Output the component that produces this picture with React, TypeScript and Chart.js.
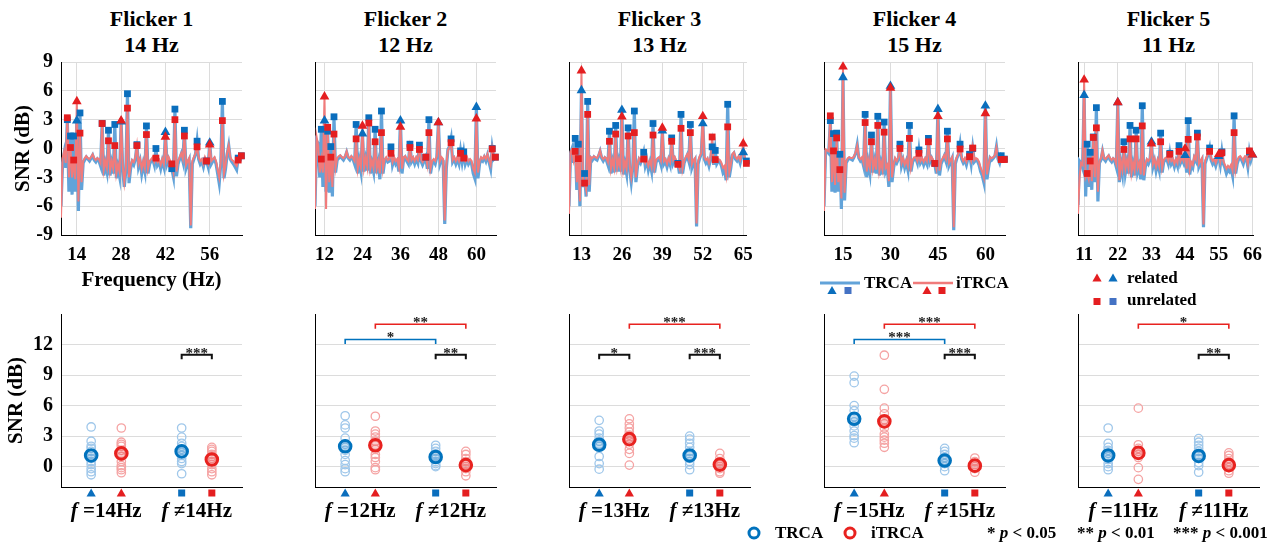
import React, { useEffect, useRef } from 'react';
import { Chart, registerables } from 'chart.js';

Chart.register(...registerables);

const FONT = '"Liberation Serif", "Times New Roman", serif';
Chart.defaults.font.family = FONT;

// ---------- frequency grid (Hz) ----------
const FREQS = [
  9, 9.5, 10, 10.5, 11, 11.5, 12, 12.5, 13, 13.5,
  14, 14.5, 15, 15.5, 16, 16.5, 17, 17.5, 18, 18.5,
  19, 19.5, 20, 20.5, 21, 21.5, 22, 22.5, 23, 23.5,
  24, 24.5, 25, 25.5, 26, 26.5, 27, 27.5, 28, 28.5,
  29, 29.5, 30, 30.5, 31, 31.5, 32, 32.5, 33, 33.5,
  34, 34.5, 35, 35.5, 36, 36.5, 37, 37.5, 38, 38.5,
  39, 39.5, 40, 40.5, 41, 41.5, 42, 42.5, 43, 43.5,
  44, 44.5, 45, 45.5, 46, 46.5, 47, 47.5, 48, 48.5,
  49, 49.5, 50, 50.5, 51, 51.5, 52, 52.5, 53, 53.5,
  54, 54.5, 55, 55.5, 56, 56.5, 57, 57.5, 58, 58.5,
  59, 59.5, 60, 60.5, 61, 61.5, 62, 62.5, 63, 63.5,
  64, 64.5, 65, 65.5, 66,
];

// ---------- SNR spectra (dB) ----------
const TRCA_SPEC_1 = [
  -6.0, -1.5, -0.5, -2.0, 3.0, -4.5, 1.3, -4.8, 1.3, -4.5,
  2.9, -6.5, 3.7, -4.3, -1.5, -1.2, -0.9, -1.1, -1.3, -1.0,
  -0.7, -1.2, -1.4, -1.1, -1.3, -1.8, 2.6, -2.8, -1.6, -2.4,
  1.9, -2.8, -1.6, -2.6, 2.5, -3.1, -2.0, -2.9, 2.8, -2.2,
  -4.0, -2.3, 5.7, -3.6, -2.1, -1.4, -1.7, -1.1, 0.4, -1.9,
  -1.3, -2.6, -1.6, -2.4, 2.35, -2.6, -1.6, -1.3, -1.1, -1.7,
  0.0, -1.7, -1.4, -2.1, -1.3, -1.9, 1.7, -1.6, -1.1, -1.6,
  -2.1, -2.9, 4.1, -2.9, -1.6, -1.1, -0.6, -1.3, 1.9, -2.1,
  -1.6, -1.2, -8.3, -1.6, -1.1, -0.6, 0.76, -1.1, -1.6, -1.3,
  -1.9, -1.1, -1.3, -1.9, 0.6, -1.6, -1.3, -1.1, -1.6, -2.6,
  -3.6, -1.6, 4.9, -3.1, -2.1, -0.6, 0.3, -1.1, -1.4, -1.6,
  -1.9, -2.2, -1.0, -0.9, -0.76,
];
const ITRCA_SPEC_1 = [
  -7.2, -1.0, -0.3, -1.5, 3.2, -3.0, 0.1, -3.0, -1.2, -3.2,
  4.9, -5.5, 1.6, -3.5, -1.3, -1.0, -0.8, -1.0, -1.1, -0.9,
  -0.6, -1.0, -1.2, -1.0, -1.1, -1.5, 2.6, -2.2, -1.3, -2.0,
  0.8, -2.3, -1.3, -2.1, 0.3, -2.6, -1.7, -2.4, 2.9, -1.8,
  -3.5, -2.0, 4.2, -3.0, -1.8, -1.2, -1.4, -0.9, 0.3, -1.6,
  -1.1, -2.1, -1.3, -2.0, 1.45, -2.1, -1.3, -1.1, -0.9, -1.4,
  -1.0, -1.4, -1.2, -1.7, -1.1, -1.6, 1.2, -1.3, -0.9, -1.3,
  -1.6, -2.4, 3.0, -2.4, -1.3, -0.9, -0.5, -1.1, 1.3, -1.7,
  -1.3, -1.0, -8.0, -1.3, -0.9, -0.5, 0.17, -0.9, -1.3, -1.1,
  -1.6, -0.9, -1.3, -1.6, 0.4, -1.3, -1.1, -0.9, -1.3, -2.2,
  -3.0, -1.3, 2.9, -2.6, -1.7, -0.5, 0.3, -0.9, -1.2, -1.3,
  -1.6, -1.8, -1.2, -0.9, -0.76,
];
const TRCA_SPEC_2 = [
  -6.0, 0.8, 0.5, -3.0, 2.0, -4.0, 2.9, -4.5, 1.8, -4.6,
  0.2, -5.0, 3.3, -2.5, -1.2, -1.0, -0.8, -1.0, -1.2, -0.9,
  -0.4, -1.0, -1.2, -0.9, -1.1, -1.6, 2.5, -2.6, -1.3, -2.3,
  1.55, -2.4, -1.2, -2.3, 3.2, -2.6, -1.6, -2.4, 2.0, -2.6,
  -1.6, -3.2, 3.9, -2.6, -1.3, -1.1, -1.4, -1.3, 0.17, -1.7,
  -1.1, -1.6, -1.3, -2.4, 2.9, -2.6, -1.1, -0.9, -1.3, -1.6,
  0.45, -1.4, -1.1, -1.6, -1.1, -1.5, 0.35, -1.3, -1.7, -1.3,
  -0.9, -2.1, 3.0, -2.6, -1.6, -1.3, -1.6, -0.9, 2.7, -1.6,
  -1.1, -1.3, -7.85, -2.1, -0.1, 0.2, 1.0, -1.4, -1.1, -1.6,
  -1.1, -1.6, -0.25, -1.4, -0.35, -1.6, -1.1, -1.6, -1.3, -1.6,
  -2.6, -3.1, 4.3, -3.1, -1.6, -1.1, -1.3, -0.9, -1.3, -0.7,
  -1.4, -2.1, 0.0, -1.1, -0.9,
];
const ITRCA_SPEC_2 = [
  -6.3, 1.2, 0.3, -2.5, -1.1, -2.5, 5.4, -6.3, 2.2, -3.5,
  -0.9, -4.0, 1.5, -2.0, -1.0, -0.8, -0.7, -0.9, -1.0, -0.8,
  -0.3, -0.9, -1.0, -0.8, -1.0, -1.3, 1.0, -2.1, -1.1, -1.9,
  2.35, -2.0, -1.0, -1.9, 2.65, -2.1, -1.3, -2.0, 0.7, -2.1,
  -1.3, -2.6, 1.65, -2.1, -1.1, -0.9, -1.2, -1.1, -0.5, -1.4,
  -0.9, -1.3, -1.1, -1.9, 2.25, -2.1, -0.9, -0.8, -1.1, -1.3,
  0.1, -1.2, -0.9, -1.3, -0.9, -1.2, -0.1, -1.1, -1.4, -1.1,
  -0.9, -1.7, 1.65, -2.1, -1.3, -1.1, -1.3, -0.8, 2.7, -1.3,
  -0.9, -1.1, -7.5, -1.7, -0.2, 0.1, 0.6, -1.2, -0.9, -1.3,
  -0.9, -1.3, -0.5, -1.2, -1.0, -1.3, -0.9, -1.3, -1.1, -1.3,
  -2.1, -2.5, 3.1, -2.5, -1.3, -0.9, -1.1, -0.8, -1.1, -0.6,
  -1.2, -1.7, -0.05, -1.0, -0.9,
];
const TRCA_SPEC_3 = [
  -6.0, -0.5, 0.0, -1.5, 1.05, -4.3, 0.45, -6.0, 6.05, -4.0,
  -2.6, -5.0, 4.9, -4.5, -1.0, -1.2, -0.9, -1.1, -1.2, -0.8,
  -0.3, -1.0, -1.3, -1.0, -1.2, -1.7, 1.8, -2.6, -1.5, -2.5,
  2.4, -2.4, -1.4, -2.4, 4.0, -2.7, -1.7, -2.6, 2.15, -2.2,
  -3.5, -2.0, 3.9, -3.5, -1.9, -1.2, -1.5, -1.0, -0.4, -1.8,
  -1.2, -2.2, -1.5, -2.3, 2.6, -2.5, -1.4, -1.2, -1.0, -1.6,
  1.85, -1.6, -1.3, -1.9, -1.2, -1.7, 1.1, -1.5, -1.1, -1.5,
  -1.55, -2.6, 3.55, -2.6, -1.5, -1.1, -0.7, -1.3, 2.5, -2.0,
  -1.5, -1.2, -8.1, -1.6, -1.0, -0.6, 2.6, -1.1, -1.5, -1.2,
  -1.8, -1.1, 0.17, -1.7, -0.2, -1.6, -1.3, -1.4, -1.8, -2.5,
  -2.2, -3.3, 4.6, -3.0, -2.0, -0.7, -0.5, -1.1, -1.3, -1.0,
  -1.5, -0.8, -0.4, -1.2, -1.3,
];
const ITRCA_SPEC_3 = [
  -6.8, -0.3, -0.1, -1.2, -0.3, -3.5, -1.05, -5.5, 8.1, -3.5,
  -3.6, -4.3, 3.55, -3.8, -0.9, -1.0, -0.8, -0.9, -1.0, -0.7,
  -0.2, -0.9, -1.1, -0.9, -1.0, -1.4, 0.75, -2.1, -1.2, -2.0,
  1.5, -2.0, -1.2, -2.0, 3.3, -2.2, -1.4, -2.1, 1.3, -1.8,
  -3.0, -1.7, 1.65, -3.0, -1.6, -1.0, -1.3, -0.9, -1.1, -1.5,
  -1.0, -1.8, -1.3, -1.9, 1.4, -2.0, -1.2, -1.0, -0.9, -1.3,
  2.15, -1.3, -1.1, -1.6, -1.0, -1.4, 0.75, -1.2, -0.9, -1.3,
  -1.65, -2.1, 2.1, -2.1, -1.3, -0.9, -0.6, -1.1, 1.65, -1.6,
  -1.2, -1.0, -7.8, -1.3, -0.8, -0.5, 3.35, -0.9, -1.2, -1.0,
  -1.5, -0.9, 1.2, -1.4, -1.15, -1.3, -1.1, -1.2, -1.5, -2.0,
  -1.8, -2.7, 2.25, -2.5, -1.7, -0.6, -0.4, -0.9, -1.1, -0.8,
  -1.2, -0.6, 0.5, -1.0, -1.55,
];
const TRCA_SPEC_4 = [
  -6.0, -0.3, -0.3, -0.5, 2.9, -4.5, 1.55, -4.6, 1.6, -4.5,
  -0.6, -6.3, 7.4, -5.4, -1.5, -1.2, -1.0, -1.1, -1.2, -0.9,
  -0.5, 0.4, -1.0, -1.3, -1.1, -1.8, 3.55, -3.0, -1.5, -2.5,
  1.4, -2.5, -1.4, -2.6, 3.35, -2.8, -1.7, -2.7, 2.75, -2.4,
  -2.0, -4.0, 6.5, -3.5, -2.0, -1.2, -1.5, -1.1, 0.45, -1.8,
  -1.2, -2.0, -1.4, -2.2, 2.4, -2.4, -1.4, -1.1, -1.0, -1.5,
  -0.15, -1.5, -1.2, -1.7, -1.2, -1.6, 1.05, -1.4, -1.0, -1.4,
  -1.55, -2.6, 4.1, -2.8, -1.6, -1.2, -0.8, -1.3, 1.8, -1.8,
  -1.4, -1.0, -8.5, -1.6, -1.0, -0.6, 0.45, -1.1, -1.5, -1.2,
  -1.7, -1.0, -0.6, -1.6, 0.0, -1.4, -1.2, -1.3, -1.7, -2.4,
  -2.8, -3.5, 4.45, -3.2, -2.0, -1.0, -1.2, -1.0, -0.8, 0.2,
  -1.1, -1.5, -0.75, -1.0, -1.1,
];
const ITRCA_SPEC_4 = [
  -6.5, -0.1, -0.2, -0.3, 3.4, -3.5, -0.25, -3.8, 1.1, -3.5,
  -2.2, -5.2, 8.5, -4.6, -1.3, -1.0, -0.9, -1.0, -1.0, -0.8,
  -0.4, 0.3, -0.9, -1.1, -0.9, -1.5, 2.7, -2.4, -1.2, -2.0,
  0.7, -2.1, -1.2, -2.2, 2.4, -2.3, -1.4, -2.2, 1.7, -2.0,
  -1.7, -3.4, 6.3, -3.0, -1.7, -1.0, -1.3, -0.9, 0.0, -1.5,
  -1.0, -1.7, -1.2, -1.8, 1.05, -2.0, -1.2, -0.9, -0.9, -1.3,
  -0.5, -1.3, -1.0, -1.4, -1.0, -1.3, 0.7, -1.2, -0.9, -1.2,
  -1.55, -2.1, 3.35, -2.3, -1.3, -1.0, -0.7, -1.1, 1.0, -1.5,
  -1.2, -0.9, -8.2, -1.3, -0.9, -0.5, -0.05, -0.9, -1.3, -1.0,
  -1.4, -0.9, -0.85, -1.3, 0.05, -1.2, -1.0, -1.1, -1.4, -2.0,
  -2.4, -3.0, 3.65, -2.7, -1.7, -0.9, -1.0, -0.9, -0.7, 0.1,
  -1.0, -1.3, -1.15, -1.0, -1.15,
];
const TRCA_SPEC_5 = [
  -5.9, -1.3, -1.5, -2.0, 5.55, -5.0, 0.45, -4.0, -0.4, -4.3,
  1.2, -3.5, 4.25, -5.5, -1.5, -1.2, -0.3, -1.1, -1.3, -1.0,
  -0.8, -1.2, -1.4, -1.1, -1.3, -1.9, 4.8, -3.5, -1.6, -2.6,
  0.7, -2.5, -1.5, -2.6, 2.4, -3.0, -1.8, -2.8, 1.9, -2.4,
  -1.8, -3.2, 4.45, -3.3, -1.9, -1.3, -1.6, -1.2, 0.7, -1.9,
  -1.3, -2.3, -1.5, -2.2, 1.6, -2.5, -1.4, -1.2, -1.1, -1.6,
  -0.5, -1.6, -1.3, -1.9, -1.3, -1.8, 0.3, -1.5, -1.1, -1.5,
  -0.7, -2.5, 2.9, -2.7, -1.7, -2.0, -1.0, -1.3, 1.6, -1.9,
  -1.5, -1.2, -8.2, -1.6, -1.1, -0.6, 0.05, -1.2, -1.6, -1.3,
  -1.8, -1.2, -0.8, -1.7, -0.35, -1.6, -2.0, -2.6, -2.2, -2.4,
  -2.0, -2.8, 3.4, -2.6, -1.6, -1.1, -1.0, -1.2, -1.6, -1.0,
  -0.9, -1.9, -0.35, -1.2, -0.65,
];
const ITRCA_SPEC_5 = [
  -6.8, -3.0, -1.5, -1.7, 7.15, -3.0, -2.6, -3.2, -1.3, -3.4,
  1.15, -3.0, 2.15, -4.5, -1.3, -1.0, -0.2, -1.0, -1.1, -0.9,
  -0.7, -1.0, -1.2, -1.0, -1.1, -1.6, 4.8, -3.3, -1.3, -2.2,
  -0.1, -2.1, -1.2, -2.1, 1.0, -2.5, -1.5, -2.3, 1.0, -2.0,
  -1.5, -2.7, 2.35, -2.8, -1.6, -1.1, -1.3, -1.0, 0.5, -1.6,
  -1.1, -1.9, -1.2, -1.8, 0.7, -2.0, -1.2, -1.0, -0.9, -1.3,
  -0.6, -1.3, -1.1, -1.6, -1.1, -1.5, -0.3, -1.3, -0.9, -1.3,
  0.0, -2.1, 0.95, -2.2, -1.4, -1.7, -0.8, -1.1, 1.2, -1.6,
  -1.3, -1.0, -7.9, -1.3, -0.9, -0.5, -0.3, -1.0, -1.3, -1.1,
  -1.5, -1.0, -0.6, -1.4, -0.45, -1.3, -1.7, -2.1, -1.8, -2.0,
  -1.7, -2.3, 1.65, -2.2, -1.3, -0.9, -0.8, -1.0, -1.3, -0.8,
  -0.8, -1.6, -0.25, -1.0, -0.65,
];

// ---------- related (harmonics of the flicker, also x tick labels) / unrelated frequencies ----------
const RELATED_1 = [14, 28, 42, 56];
const RELATED_2 = [12, 24, 36, 48, 60];
const RELATED_3 = [13, 26, 39, 52, 65];
const RELATED_4 = [15, 30, 45, 60];
const RELATED_5 = [11, 22, 33, 44, 55, 66];
const UNRELATED_1 = [11, 12, 13, 15, 22, 24, 26, 30, 33, 36, 39, 44, 45, 48, 52, 55, 60, 65, 66];
const UNRELATED_2 = [11, 13, 14, 15, 22, 26, 28, 30, 33, 39, 42, 44, 45, 52, 55, 56, 65, 66];
const UNRELATED_3 = [11, 12, 14, 15, 22, 24, 28, 30, 33, 36, 42, 44, 45, 48, 55, 56, 60, 66];
const UNRELATED_4 = [11, 12, 13, 14, 22, 24, 26, 28, 33, 36, 39, 42, 44, 48, 52, 55, 56, 65, 66];
const UNRELATED_5 = [12, 13, 14, 15, 24, 26, 28, 30, 36, 39, 42, 45, 48, 52, 56, 60, 65];

const TITLES = ['Flicker 1', 'Flicker 2', 'Flicker 3', 'Flicker 4', 'Flicker 5'];
const STIM_FREQ = [14, 12, 13, 15, 11];

// ---------- per-subject SNR at related / unrelated frequencies ----------
const TRCA_REL_1 = [3.9, 2.5, 2.0, 1.8, 1.5, 1.2, 0.8, 0.5, 0.2, -0.2, -0.5, -0.8];
const ITRCA_REL_1 = [3.8, 2.4, 2.2, 2.0, 1.6, 1.3, 1.0, 0.5, 0.1, -0.1, -0.3, -0.6];
const TRCA_UNREL_1 = [3.8, 2.9, 2.3, 2.0, 1.7, 1.4, 1.1, 0.8, 0.5, 0.3, -0.7];
const ITRCA_UNREL_1 = [1.9, 1.7, 1.5, 1.2, 1.0, 0.8, 0.5, 0.2, -0.2, -0.5, -0.8];
const MEANS_1 = [1.1, 1.3, 1.5, 0.7];

const TRCA_REL_2 = [5.0, 4.1, 3.8, 2.8, 2.2, 1.9, 1.6, 1.2, 0.6, 0.2, -0.2, -0.5];
const ITRCA_REL_2 = [4.95, 3.5, 3.2, 2.9, 2.5, 2.1, 1.7, 1.2, 0.9, 0.5, -0.1, -0.3];
const TRCA_UNREL_2 = [2.1, 1.8, 1.5, 1.2, 1.0, 0.8, 0.5, 0.3, 0.1, 0.0];
const ITRCA_UNREL_2 = [1.5, 1.2, 0.8, 0.5, 0.2, 0.0, -0.2, -0.5, -0.9];
const MEANS_2 = [2.0, 2.1, 0.95, 0.15];

const TRCA_REL_3 = [4.55, 3.5, 3.2, 2.8, 2.5, 2.2, 2.0, 1.0, 0.3, -0.25];
const ITRCA_REL_3 = [4.7, 4.2, 3.8, 3.4, 3.1, 2.8, 2.5, 2.2, 1.7, 1.3, 0.15];
const TRCA_UNREL_3 = [3.0, 2.7, 2.3, 1.9, 1.5, 1.1, 0.8, 0.5, 0.2, -0.3];
const ITRCA_UNREL_3 = [1.3, 0.8, 0.5, 0.2, 0.0, -0.2, -0.5, -0.65];
const MEANS_3 = [2.15, 2.7, 1.1, 0.2];

const TRCA_REL_4 = [8.9, 8.25, 6.0, 5.5, 4.9, 4.4, 4.0, 3.5, 3.05, 2.8, 2.35];
const ITRCA_REL_4 = [10.95, 7.6, 5.75, 5.2, 4.6, 4.2, 3.8, 3.2, 2.9, 2.6, 2.3, 1.9];
const TRCA_UNREL_4 = [1.8, 1.5, 1.2, 0.9, 0.6, 0.3, 0.0, -0.4];
const ITRCA_UNREL_4 = [0.85, 0.5, 0.2, 0.0, -0.2, -0.55];
const MEANS_4 = [4.7, 4.45, 0.6, 0.1];

const TRCA_REL_5 = [3.8, 2.3, 1.9, 1.6, 1.3, 1.0, 0.7, 0.3, 0.0, -0.3];
const ITRCA_REL_5 = [5.75, 2.15, 1.8, 1.5, 1.2, 0.9, -0.1, -1.25];
const TRCA_UNREL_5 = [2.75, 2.4, 2.1, 1.8, 1.5, 1.1, 0.8, 0.4, 0.1, -0.55];
const ITRCA_UNREL_5 = [1.35, 1.1, 0.8, 0.5, 0.2, -0.1, -0.4, -0.65];
const MEANS_5 = [1.1, 1.35, 1.05, 0.15];

// significance brackets: group positions (1 TRCA f=, 2 iTRCA f=, 4 TRCA f≠, 5 iTRCA f≠)
const BRACKETS_1 = [{ from: 4, to: 5, level: 11, kind: 'black', stars: '***' }];
const BRACKETS_2 = [
  { from: 2, to: 5, level: 14, kind: 'red', stars: '**' },
  { from: 1, to: 4, level: 12.5, kind: 'blue', stars: '*' },
  { from: 4, to: 5, level: 11, kind: 'black', stars: '**' },
];
const BRACKETS_3 = [
  { from: 2, to: 5, level: 14, kind: 'red', stars: '***' },
  { from: 1, to: 2, level: 11, kind: 'black', stars: '*' },
  { from: 4, to: 5, level: 11, kind: 'black', stars: '***' },
];
const BRACKETS_4 = [
  { from: 2, to: 5, level: 14, kind: 'red', stars: '***' },
  { from: 1, to: 4, level: 12.5, kind: 'blue', stars: '***' },
  { from: 4, to: 5, level: 11, kind: 'black', stars: '***' },
];
const BRACKETS_5 = [
  { from: 2, to: 5, level: 14, kind: 'red', stars: '*' },
  { from: 4, to: 5, level: 11, kind: 'black', stars: '**' },
];

const BOTTOM_Y_TICKS = [0, 3, 6, 9, 12];

// ---------- grouping ----------
const SPEC_TRCA = [TRCA_SPEC_1, TRCA_SPEC_2, TRCA_SPEC_3, TRCA_SPEC_4, TRCA_SPEC_5];
const SPEC_ITRCA = [ITRCA_SPEC_1, ITRCA_SPEC_2, ITRCA_SPEC_3, ITRCA_SPEC_4, ITRCA_SPEC_5];
const RELATED = [RELATED_1, RELATED_2, RELATED_3, RELATED_4, RELATED_5];
const UNRELATED = [UNRELATED_1, UNRELATED_2, UNRELATED_3, UNRELATED_4, UNRELATED_5];
const TRCA_REL = [TRCA_REL_1, TRCA_REL_2, TRCA_REL_3, TRCA_REL_4, TRCA_REL_5];
const ITRCA_REL = [ITRCA_REL_1, ITRCA_REL_2, ITRCA_REL_3, ITRCA_REL_4, ITRCA_REL_5];
const TRCA_UNREL = [TRCA_UNREL_1, TRCA_UNREL_2, TRCA_UNREL_3, TRCA_UNREL_4, TRCA_UNREL_5];
const ITRCA_UNREL = [ITRCA_UNREL_1, ITRCA_UNREL_2, ITRCA_UNREL_3, ITRCA_UNREL_4, ITRCA_UNREL_5];
const MEANS = [MEANS_1, MEANS_2, MEANS_3, MEANS_4, MEANS_5];
const BRACKETS = [BRACKETS_1, BRACKETS_2, BRACKETS_3, BRACKETS_4, BRACKETS_5];

// ---------- style ----------
const BLUE_MARK = '#0a6ebd';
const RED_MARK = '#e41e20';
const BLUE_LINE = '#62a3d9';
const RED_LINE = '#f07b7b';
const BLUE_SUBJ = '#9fc7ea';
const RED_SUBJ = '#f5a3a3';
const BLUE_MEAN = '#0072bd';
const RED_MEAN = '#e8221f';
const ROYAL = '#4472c4';
const GRID = '#dcdcdc';
const BRACKET_COLORS: Record<string, string> = { black: '#111', blue: BLUE_MEAN, red: RED_MEAN };

const PLOT_LEFT = [61, 315, 569, 824, 1078];
const PLOT_W = 181;
const AXIS_W = 61;
const PAD_R = 12;
const CANVAS_W = AXIS_W + PLOT_W + PAD_R;

function TopPanel({ i }: { i: number }) {
  const ref = useRef<HTMLCanvasElement>(null);
  useEffect(() => {
    const blue = SPEC_TRCA[i];
    const red = SPEC_ITRCA[i];
    const rel = RELATED[i];
    const unrel = UNRELATED[i];
    const valAt = (arr: number[], f: number) => arr[FREQS.indexOf(f)];
    const line = (arr: number[]) => FREQS.map((f, k) => ({ x: f, y: arr[k] }));
    const pts = (fs: number[], arr: number[]) => fs.map((f) => ({ x: f, y: valAt(arr, f) }));
    const marker = (data: any[], style: string, r: number, color: string, order: number) => ({
      data,
      showLine: false,
      pointStyle: style,
      pointRadius: r,
      pointBackgroundColor: color,
      pointBorderColor: color,
      pointBorderWidth: 0,
      order,
      clip: 10,
    });
    const chart = new Chart(ref.current as HTMLCanvasElement, {
      type: 'line',
      data: {
        datasets: [
          { data: line(blue), borderColor: BLUE_LINE, borderWidth: 3.2, pointRadius: 0, order: 10 } as any,
          { data: line(red), borderColor: RED_LINE, borderWidth: 2, pointRadius: 0, order: 9 } as any,
          marker(pts(unrel, blue), 'rect', 4.8, BLUE_MARK, 8),
          marker(pts(rel, blue), 'triangle', 5.6, BLUE_MARK, 7),
          marker(pts(unrel, red), 'rect', 4.8, RED_MARK, 6),
          marker(pts(rel, red), 'triangle', 5.6, RED_MARK, 5),
        ],
      },
      options: {
        responsive: false,
        animation: false,
        events: [],
        layout: { padding: { left: 0, right: PAD_R, top: 20, bottom: 0 } },
        plugins: { legend: { display: false }, tooltip: { enabled: false }, title: { display: false } },
        scales: {
          x: {
            type: 'linear',
            min: 9,
            max: 66.2,
            afterBuildTicks: (s: any) => {
              s.ticks = rel.map((v) => ({ value: v }));
            },
            afterFit: (s: any) => {
              s.height = 60;
            },
            grid: { color: GRID, drawTicks: false, lineWidth: 1 },
            border: { color: '#000', width: 1 },
            ticks: {
              color: '#000',
              font: { family: FONT, size: 19, weight: 'bold' },
              padding: 9,
              maxRotation: 0,
              autoSkip: false,
            },
            title: {
              display: i === 0,
              text: 'Frequency (Hz)',
              color: '#000',
              font: { family: FONT, size: 21, weight: 'bold' },
              padding: { top: 0, bottom: 2 },
            },
          },
          y: {
            min: -9,
            max: 9,
            afterFit: (s: any) => {
              s.width = AXIS_W;
            },
            grid: { color: GRID, drawTicks: false, lineWidth: 1 },
            border: { color: '#000', width: 1 },
            ticks: {
              stepSize: 3,
              display: i === 0,
              color: '#000',
              font: { family: FONT, size: 20, weight: 'bold' },
              padding: 8,
            },
            title: {
              display: i === 0,
              text: 'SNR (dB)',
              color: '#000',
              font: { family: FONT, size: 21, weight: 'bold' },
              padding: { top: 11, bottom: 0 },
            },
          },
        },
      } as any,
    });
    return () => chart.destroy();
  }, [i]);
  return (
    <canvas
      ref={ref}
      width={CANVAS_W}
      height={253}
      style={{ position: 'absolute', left: PLOT_LEFT[i] - AXIS_W, top: 42, width: CANVAS_W, height: 253 }}
    />
  );
}

function drawTriangle(ctx: CanvasRenderingContext2D, cx: number, cy: number, color: string) {
  ctx.fillStyle = color;
  ctx.beginPath();
  ctx.moveTo(cx, cy - 4.5);
  ctx.lineTo(cx + 4.6, cy + 3.6);
  ctx.lineTo(cx - 4.6, cy + 3.6);
  ctx.closePath();
  ctx.fill();
}
function drawSquare(ctx: CanvasRenderingContext2D, cx: number, cy: number, color: string) {
  ctx.fillStyle = color;
  ctx.fillRect(cx - 3.5, cy - 3.5, 7, 7);
}

function BottomPanel({ i }: { i: number }) {
  const ref = useRef<HTMLCanvasElement>(null);
  useEffect(() => {
    const m = MEANS[i];
    const subj = (vals: number[], x: number) => vals.map((v) => ({ x, y: v }));
    const decor = {
      id: 'decor' + i,
      afterDraw(chart: any) {
        const { ctx, chartArea, scales } = chart;
        const xs = scales.x;
        const ys = scales.y;
        ctx.save();
        // group markers under the axis
        const my = chartArea.bottom + 6;
        drawTriangle(ctx, xs.getPixelForValue(1), my, BLUE_MARK);
        drawTriangle(ctx, xs.getPixelForValue(2), my, RED_MARK);
        drawSquare(ctx, xs.getPixelForValue(4), my, BLUE_MARK);
        drawSquare(ctx, xs.getPixelForValue(5), my, RED_MARK);
        // group labels
        const base = chartArea.bottom + 30;
        const label = (cx: number, rel: string) => {
          const parts = [
            { t: 'f', f: `italic bold 21px ${FONT}` },
            { t: ' ' + rel + STIM_FREQ[i] + 'Hz', f: `bold 21px ${FONT}` },
          ];
          let total = 0;
          const ws = parts.map((p) => {
            ctx.font = p.f;
            const w = ctx.measureText(p.t).width;
            total += w;
            return w;
          });
          let x = cx - total / 2;
          ctx.fillStyle = '#000';
          ctx.textAlign = 'left';
          ctx.textBaseline = 'alphabetic';
          parts.forEach((p, k) => {
            ctx.font = p.f;
            ctx.fillText(p.t, x, base);
            x += ws[k];
          });
        };
        label(xs.getPixelForValue(1.5), '=');
        label(xs.getPixelForValue(4.5), '\u2260');
        // significance brackets
        BRACKETS[i].forEach((b) => {
          const x1 = xs.getPixelForValue(b.from);
          const x2 = xs.getPixelForValue(b.to);
          const yy = ys.getPixelForValue(b.level);
          ctx.strokeStyle = BRACKET_COLORS[b.kind];
          ctx.lineWidth = b.kind === 'black' ? 2 : 1.6;
          ctx.beginPath();
          ctx.moveTo(x1, yy + 4.5);
          ctx.lineTo(x1, yy);
          ctx.lineTo(x2, yy);
          ctx.lineTo(x2, yy + 4.5);
          ctx.stroke();
          ctx.font = `bold 15px ${FONT}`;
          ctx.fillStyle = '#222';
          ctx.textAlign = 'center';
          ctx.textBaseline = 'alphabetic';
          ctx.fillText(b.stars, (x1 + x2) / 2, yy + 3);
        });
        ctx.restore();
      },
    };
    const chart = new Chart(ref.current as HTMLCanvasElement, {
      type: 'scatter',
      data: {
        datasets: [
          {
            data: [...subj(TRCA_REL[i], 1), ...subj(TRCA_UNREL[i], 4)],
            pointRadius: 4.2,
            pointBorderWidth: 1.3,
            pointBorderColor: BLUE_SUBJ,
            pointBackgroundColor: 'rgba(0,0,0,0)',
            order: 4,
          },
          {
            data: [...subj(ITRCA_REL[i], 2), ...subj(ITRCA_UNREL[i], 5)],
            pointRadius: 4.2,
            pointBorderWidth: 1.3,
            pointBorderColor: RED_SUBJ,
            pointBackgroundColor: 'rgba(0,0,0,0)',
            order: 3,
          },
          {
            data: [{ x: 1, y: m[0] }, { x: 4, y: m[2] }],
            pointRadius: 5.8,
            pointBorderWidth: 3,
            pointBorderColor: BLUE_MEAN,
            pointBackgroundColor: 'rgba(0,114,189,0.22)',
            order: 2,
          },
          {
            data: [{ x: 2, y: m[1] }, { x: 5, y: m[3] }],
            pointRadius: 5.8,
            pointBorderWidth: 3,
            pointBorderColor: RED_MEAN,
            pointBackgroundColor: 'rgba(232,34,31,0.22)',
            order: 1,
          },
        ],
      },
      options: {
        responsive: false,
        animation: false,
        events: [],
        layout: { padding: { left: 0, right: PAD_R, top: 20, bottom: 0 } },
        plugins: { legend: { display: false }, tooltip: { enabled: false }, title: { display: false } },
        scales: {
          x: {
            type: 'linear',
            min: 0,
            max: 6,
            afterFit: (s: any) => {
              s.height = 59;
            },
            grid: { display: false },
            border: { color: '#000', width: 1 },
            ticks: { display: false },
          },
          y: {
            min: -2,
            max: 15,
            afterBuildTicks: (s: any) => {
              s.ticks = BOTTOM_Y_TICKS.map((v) => ({ value: v }));
            },
            afterFit: (s: any) => {
              s.width = AXIS_W;
            },
            grid: { color: GRID, drawTicks: false, lineWidth: 1 },
            border: { color: '#000', width: 1 },
            ticks: {
              display: i === 0,
              color: '#000',
              font: { family: FONT, size: 20, weight: 'bold' },
              padding: 8,
            },
            title: {
              display: i === 0,
              text: 'SNR (dB)',
              color: '#000',
              font: { family: FONT, size: 21, weight: 'bold' },
              padding: { top: 4, bottom: 0 },
            },
          },
        },
      } as any,
      plugins: [decor],
    });
    return () => chart.destroy();
  }, [i]);
  return (
    <canvas
      ref={ref}
      width={CANVAS_W}
      height={252}
      style={{ position: 'absolute', left: PLOT_LEFT[i] - AXIS_W, top: 294, width: CANVAS_W, height: 252 }}
    />
  );
}

function Txt({ x, base, size, children }: { x: number; base: number; size: number; children: any }) {
  const L = Math.round(size * 1.2);
  const top = base - (L / 2 + 0.3375 * size);
  return (
    <div
      style={{
        position: 'absolute',
        left: x,
        top,
        fontFamily: FONT,
        fontWeight: 'bold',
        fontSize: size,
        lineHeight: `${L}px`,
        whiteSpace: 'nowrap',
        color: '#000',
      }}
    >
      {children}
    </div>
  );
}

const tri = (cx: number, cy: number) => `${cx},${cy - 4.5} ${cx + 4.6},${cy + 3.6} ${cx - 4.6},${cy + 3.6}`;

export default function App() {
  const idx = [0, 1, 2, 3, 4];
  return (
    <div style={{ position: 'absolute', left: 0, top: 0, width: 1281, height: 546, background: '#fff', overflow: 'hidden' }}>
      {idx.map((i) => (
        <div
          key={'t' + i}
          style={{
            position: 'absolute',
            left: PLOT_LEFT[i] - 20,
            width: PLOT_W + 40,
            top: 26 - (13 + 0.3375 * 22),
            fontFamily: FONT,
            fontWeight: 'bold',
            fontSize: 22,
            lineHeight: '26px',
            textAlign: 'center',
            color: '#000',
          }}
        >
          <div>{TITLES[i]}</div>
          <div>{STIM_FREQ[i]} Hz</div>
        </div>
      ))}
      {idx.map((i) => (
        <TopPanel key={'top' + i} i={i} />
      ))}
      {idx.map((i) => (
        <BottomPanel key={'bot' + i} i={i} />
      ))}
      <svg width={1281} height={546} style={{ position: 'absolute', left: 0, top: 0, pointerEvents: 'none' }}>
        {/* spectrum legend */}
        <line x1={820} y1={283} x2={860} y2={283} stroke={BLUE_LINE} strokeWidth={3} />
        <line x1={913} y1={283} x2={953} y2={283} stroke={RED_LINE} strokeWidth={2.5} />
        <polygon points={tri(832, 290.5)} fill={BLUE_MARK} />
        <rect x={844.5} y={287} width={7} height={7} fill={ROYAL} />
        <polygon points={tri(927, 290.5)} fill={RED_MARK} />
        <rect x={938.5} y={287} width={7} height={7} fill={RED_MARK} />
        {/* related / unrelated legend */}
        <polygon points={tri(1097, 278)} fill={RED_MARK} />
        <polygon points={tri(1113, 278)} fill={BLUE_MARK} />
        <rect x={1093.5} y={298} width={7} height={7} fill={RED_MARK} />
        <rect x={1109.5} y={298} width={7} height={7} fill={ROYAL} />
        {/* bottom legend */}
        <circle cx={754} cy={533} r={5} fill="none" stroke={BLUE_MEAN} strokeWidth={3} />
        <circle cx={850} cy={533} r={5} fill="none" stroke={RED_MEAN} strokeWidth={3} />
      </svg>
      <Txt x={864} base={288.5} size={17}>TRCA</Txt>
      <Txt x={956} base={288.5} size={17}>iTRCA</Txt>
      <Txt x={1127} base={283.5} size={17}>related</Txt>
      <Txt x={1127} base={306} size={17}>unrelated</Txt>
      <Txt x={775} base={539} size={17}>TRCA</Txt>
      <Txt x={871} base={539} size={17}>iTRCA</Txt>
      <Txt x={987} base={539} size={17}>
        * <i>p</i> &lt; 0.05
      </Txt>
      <Txt x={1077} base={539} size={17}>
        ** <i>p</i> &lt; 0.01
      </Txt>
      <Txt x={1173} base={539} size={17}>
        *** <i>p</i> &lt; 0.001
      </Txt>
    </div>
  );
}
